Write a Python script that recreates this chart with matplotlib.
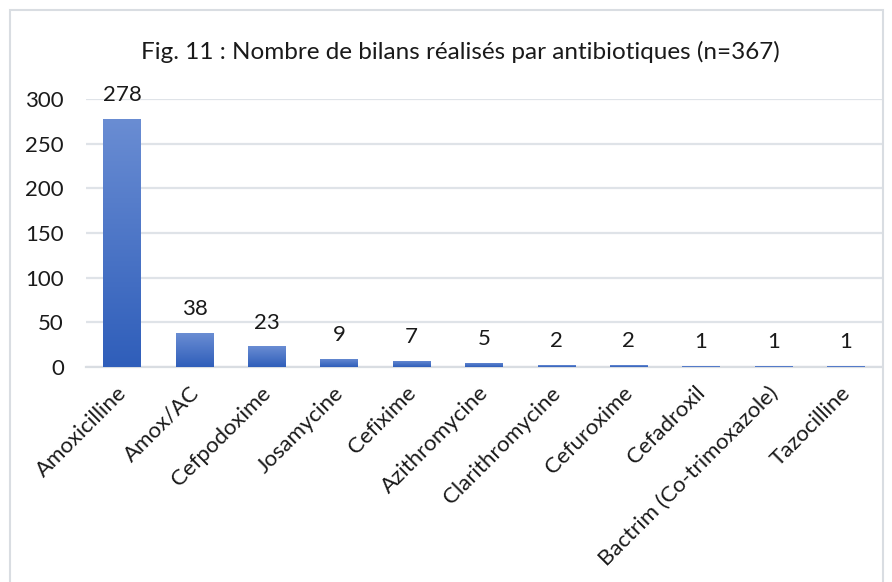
import numpy as np
import matplotlib
matplotlib.use("Agg")
import matplotlib.pyplot as plt
from matplotlib.patches import Rectangle
from matplotlib.colors import LinearSegmentedColormap
from matplotlib.transforms import ScaledTranslation

categories = ["Amoxicilline", "Amox/AC", "Cefpodoxime", "Josamycine", "Cefixime",
              "Azithromycine", "Clarithromycine", "Cefuroxime", "Cefadroxil",
              "Bactrim (Co-trimoxazole)", "Tazocilline"]
counts = [278, 38, 23, 9, 7, 5, 2, 2, 1, 1, 1]
title = "Fig. 11 : Nombre de bilans réalisés par antibiotiques (n=367)"

plt.rcParams['font.family'] = ['Lato', 'DejaVu Sans']
txt = '#1a1a1a'

fig = plt.figure(figsize=(8.92, 5.82), dpi=100)
ax = fig.add_axes([86/892, 1 - 367/582, 796/892, 268/582])

x = np.arange(len(categories))
bars = ax.bar(x, counts, width=0.52, color='none', zorder=3)

# gradient fill for each bar, lighter at the top
cmap = LinearSegmentedColormap.from_list("g", ["#2f5eba", "#6a8dd3"])
grad = np.linspace(0, 1, 256).reshape(-1, 1)
for b in bars:
    x0, y0 = b.get_x(), b.get_y()
    w, h = b.get_width(), b.get_height()
    im = ax.imshow(grad, cmap=cmap, aspect='auto', origin='lower',
                   extent=[x0, x0 + w, y0, y0 + h], zorder=3)
    im.set_clip_path(b)
    ax.annotate(str(int(h)), (x0 + w / 2, h), xytext=(0, 10), textcoords='offset points',
                ha='center', va='bottom', fontsize=16, color=txt)

ax.set_xlim(-0.5, len(categories) - 0.5)
ax.set_ylim(0, 300)
ax.set_yticks(range(0, 301, 50))
ax.yaxis.grid(True, color='#dfe3e8', linewidth=1.6, zorder=0)
ax.set_axisbelow(True)
for s in ['top', 'right', 'left']:
    ax.spines[s].set_visible(False)
ax.spines['bottom'].set_color('#d9dde2')
ax.spines['bottom'].set_linewidth(1.6)
ax.tick_params(axis='both', length=0, labelsize=16, colors=txt)
ax.tick_params(axis='y', pad=16)
ax.set_xticks(x)
ax.set_xticklabels(categories, rotation=45, ha='right', rotation_mode='anchor')
ax.tick_params(axis='x', pad=5)
shift = ScaledTranslation(-0.06, -0.09, fig.dpi_scale_trans)
for lab in ax.get_xticklabels():
    lab.set_transform(lab.get_transform() + shift)

fig.text(460/892, 1 - 52/582, title, ha='center', va='center', fontsize=17.5, color=txt)

# chart border
fig.patches.append(Rectangle((10/892, -0.02), 873/892, 1.02 - 10/582, transform=fig.transFigure,
                             fill=False, edgecolor='#d9dde2', linewidth=1.5))

fig.savefig("out.png", dpi=100)
